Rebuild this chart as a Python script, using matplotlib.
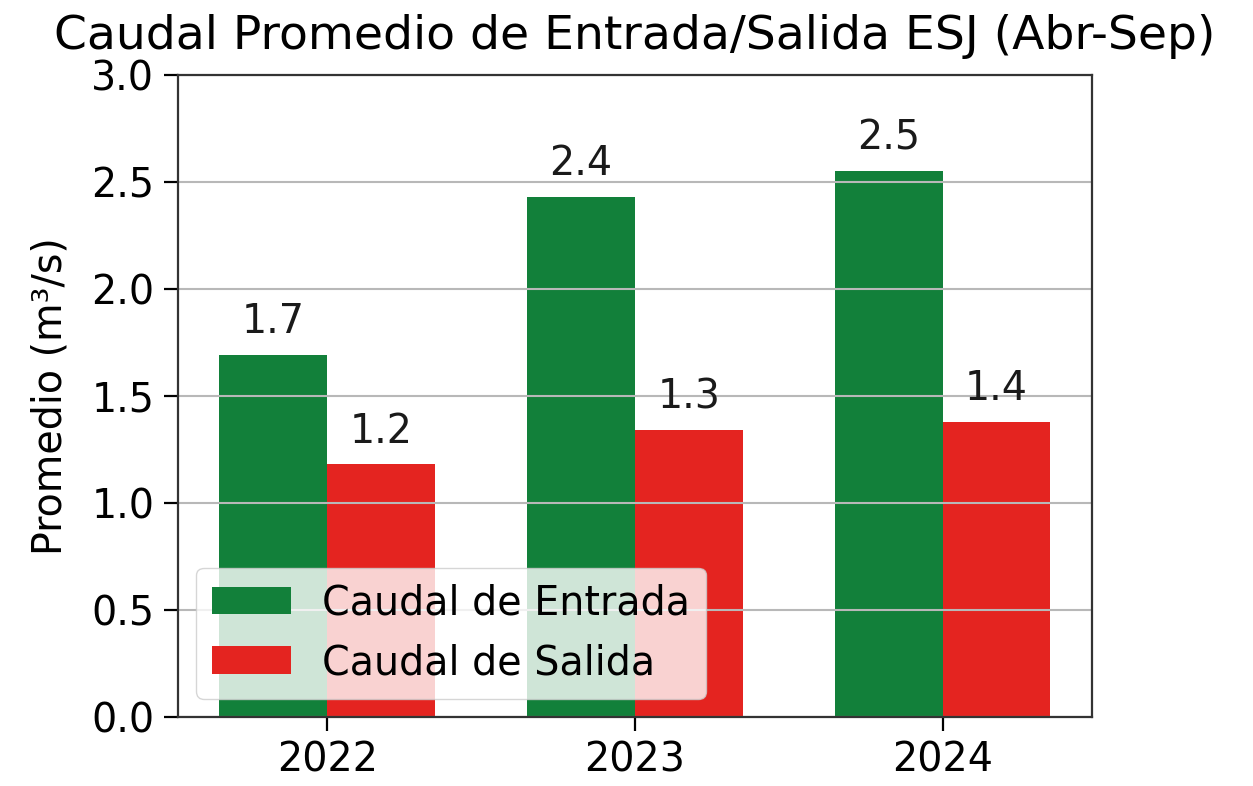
import matplotlib
matplotlib.use("Agg")
import matplotlib.pyplot as plt
import numpy as np

years = ["2022", "2023", "2024"]
entrada = [1.69, 2.43, 2.55]
salida = [1.18, 1.34, 1.38]
series_labels = ["Caudal de Entrada", "Caudal de Salida"]
title = "Caudal Promedio de Entrada/Salida ESJ (Abr-Sep)"
ylabel = "Promedio (m³/s)"

green = "#12803a"
red = "#e42420"
FS = 28.5

fig = plt.figure(figsize=(12.53, 7.86), dpi=100)
ax = fig.add_axes([0.142, 0.088, 0.7295, 0.8165])

x = np.arange(len(years)) + 2022
w = 0.35
ax.bar(x - w / 2, entrada, w, color=green, label=series_labels[0])
ax.bar(x + w / 2, salida, w, color=red, label=series_labels[1])

for xs, vals in ((x - w / 2, entrada), (x + w / 2, salida)):
    for xi, v in zip(xs, vals):
        ax.text(xi, v + 0.06, f"{v:.1f}", ha="center", va="bottom", fontsize=FS, color="#1a1a1a")

ax.set_ylim(0, 3.0)
ax.set_yticks(np.arange(0, 3.01, 0.5))
ax.set_xticks(x)
ax.set_xticklabels(years)
ax.tick_params(axis="both", labelsize=FS, length=10, width=1.6, pad=7)
ax.grid(axis="y", color="#b8b8b8", linewidth=1.5)
for s in ax.spines.values():
    s.set_linewidth(1.6)
    s.set_color("#333333")
ax.set_title(title, fontsize=34, pad=19)
ax.set_ylabel(ylabel, fontsize=FS, labelpad=15)
ax.legend(loc="lower left", fontsize=FS, borderaxespad=0.45, handlelength=2.0)

fig.savefig("out.png", dpi=100)
